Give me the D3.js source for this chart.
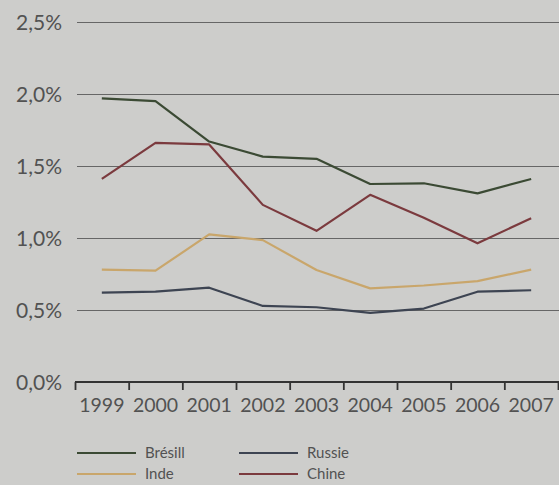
<!DOCTYPE html>
<html>
<head>
<meta charset="utf-8">
<script src="https://cdn.jsdelivr.net/npm/d3@7"></script>
<style>
  html, body { margin: 0; padding: 0; background: #cdcdcb; }
  svg { display: block; }
  text { font-family: Lato, "Open Sans", sans-serif; fill: #525252; }
</style>
</head>
<body>
<div id="chart"></div>
<script>
// data
var years = ["1999", "2000", "2001", "2002", "2003", "2004", "2005", "2006", "2007"];
var bresil = [1.97, 1.95, 1.67, 1.565, 1.55, 1.375, 1.38, 1.31, 1.41];
var inde   = [0.78, 0.773, 1.025, 0.985, 0.778, 0.65, 0.67, 0.70, 0.78];
var russie = [0.62, 0.627, 0.655, 0.528, 0.519, 0.48, 0.51, 0.627, 0.637];
var chine  = [1.41, 1.66, 1.65, 1.23, 1.05, 1.30, 1.14, 0.963, 1.137];
var yTicks = [0, 0.5, 1.0, 1.5, 2.0, 2.5];

var series = [
  { name: "Brésill", values: bresil, color: "#3b4a34" },
  { name: "Inde",    values: inde,   color: "#c9a66b" },
  { name: "Russie",  values: russie, color: "#3d4452" },
  { name: "Chine",   values: chine,  color: "#7b3a3e" }
];

var svgWidth = 559, svgHeight = 485;
// plot box (not named top/left: those clash with window globals)
var plot = { x0: 75, x1: 558, y0: 22, y1: 382 };

var svg = d3.select("#chart").append("svg")
  .attr("width", svgWidth)
  .attr("height", svgHeight);

var fr = d3.formatLocale({ decimal: ",", thousands: " ", grouping: [3], currency: ["", "€"] });
var fmt = fr.format(".1f");

var x = d3.scaleBand().domain(years).range([plot.x0, plot.x1]).paddingInner(0).paddingOuter(0);
var xTicks = d3.scaleLinear().domain([0, years.length]).range([plot.x0, plot.x1]);
var y = d3.scaleLinear().domain([0, 2.5]).range([plot.y1, plot.y0]);

// grid + y labels
var yAxis = d3.axisLeft(y)
  .tickValues(yTicks)
  .tickSizeInner(-(svgWidth - 77))
  .tickSizeOuter(0)
  .tickPadding(15)
  .tickFormat(function (d) { return fmt(d) + "%"; });

var gy = svg.append("g")
  .attr("transform", "translate(77,0)")
  .call(yAxis);
gy.select(".domain").remove();
gy.selectAll(".tick line").attr("stroke", "#666").attr("stroke-width", 1.2);
gy.selectAll(".tick text").style("font-size", "21px").attr("dy", "0.36em");

// x axis line + ticks at band edges
var gx = svg.append("g")
  .attr("transform", "translate(0," + plot.y1 + ")")
  .call(d3.axisBottom(xTicks).tickValues(d3.range(years.length + 1)).tickSizeInner(8).tickSizeOuter(0).tickFormat(""));
gx.select(".domain").attr("stroke", "#333").attr("stroke-width", 2.2).attr("d", "M" + plot.x0 + ",0H" + svgWidth);
gx.selectAll(".tick line").attr("stroke", "#333").attr("stroke-width", 1.8);

// year labels
var gl = svg.append("g")
  .attr("transform", "translate(0," + plot.y1 + ")")
  .call(d3.axisBottom(x).tickSize(0).tickPadding(16));
gl.select(".domain").remove();
gl.selectAll(".tick text").style("font-size", "19.5px").attr("dy", "0.71em");

// lines
var line = d3.line()
  .x(function (d, i) { return x(years[i]) + x.bandwidth() / 2; })
  .y(function (d) { return y(d); });

svg.selectAll(".series")
  .data(series)
  .enter().append("path")
  .attr("class", "series")
  .attr("fill", "none")
  .attr("stroke", function (d) { return d.color; })
  .attr("stroke-width", 2.2)
  .attr("stroke-linejoin", "round")
  .attr("d", function (d) { return line(d.values); });

// legend
var legendPos = [[77, 453], [77, 474], [239, 453], [239, 474]];
var lg = svg.selectAll(".legend")
  .data(series)
  .enter().append("g")
  .attr("class", "legend")
  .attr("transform", function (d, i) { return "translate(" + legendPos[i][0] + "," + legendPos[i][1] + ")"; });

lg.append("line")
  .attr("x1", 0).attr("x2", 59)
  .attr("stroke", function (d) { return d.color; })
  .attr("stroke-width", 2);

lg.append("text")
  .attr("x", 68)
  .attr("y", 5)
  .style("font-size", "15px")
  .text(function (d) { return d.name; });
</script>
</body>
</html>
